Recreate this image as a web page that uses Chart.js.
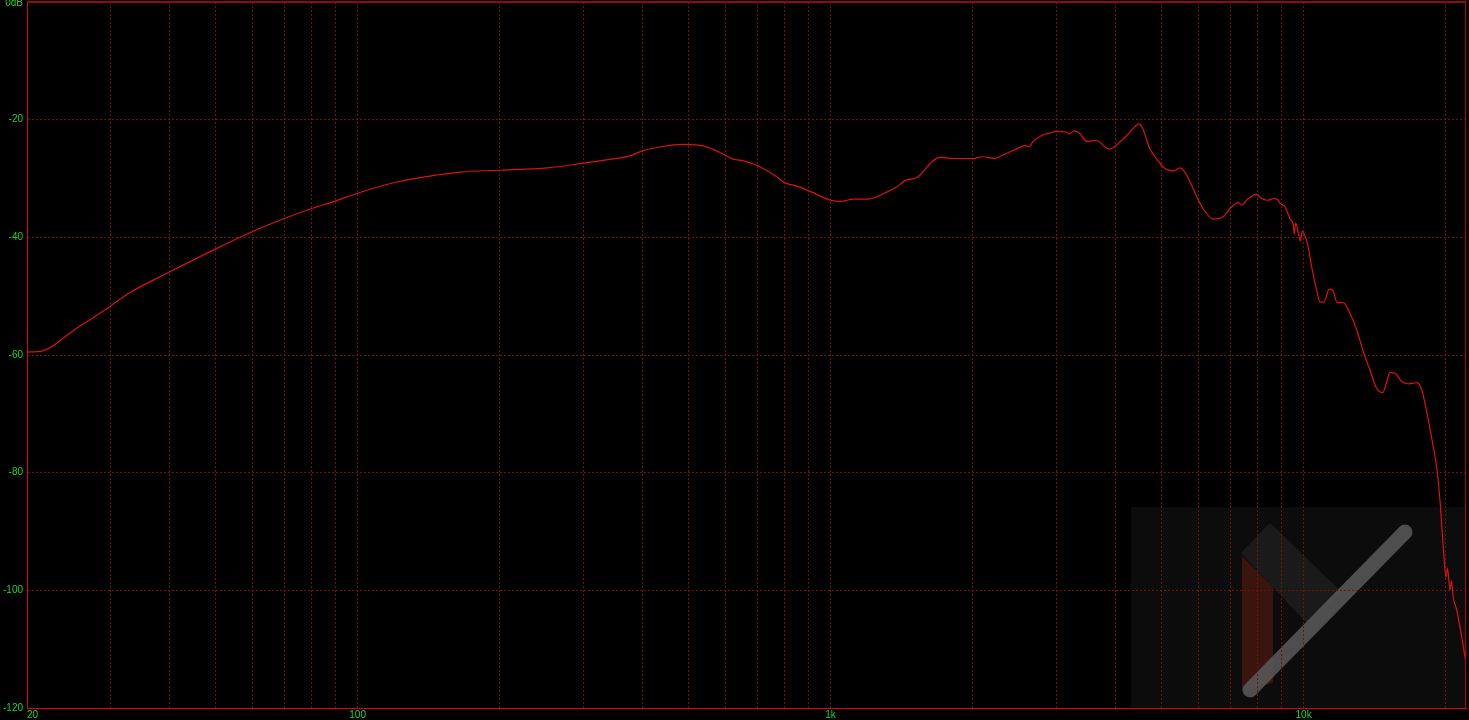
<!DOCTYPE html>
<html>
<head>
<meta charset="utf-8">
<script src="https://cdn.jsdelivr.net/npm/chart.js@4/dist/chart.umd.min.js"></script>
<style>
  html, body { margin: 0; padding: 0; background: #000; }
  canvas { display: block; }
</style>
</head>
<body>
<canvas id="grafico" width="1469" height="720"></canvas>
<script>
// frequências (Hz) e nível (dB)
const freqs = [
  20, 21.6, 25, 30, 32.5, 40, 50, 60, 70, 80, 90, 100, 121, 147, 165, 200, 252, 300, 344, 375, 400,
  438, 488, 540, 598, 622, 654, 700, 766, 800, 848, 900, 1000, 1048, 1120, 1202, 1308, 1376, 1435,
  1532, 1640, 1700, 1820, 2000, 2100, 2230, 2300, 2440, 2580, 2630, 2680, 2810, 2900, 3000, 3150,
  3200, 3270, 3360, 3480, 3640, 3880, 4200, 4440, 4480, 4570, 4730, 4970, 5050, 5300, 5480, 5610,
  5750, 5940, 6140, 6440, 6760, 6990, 7280, 7400, 7640, 7960, 8150, 8420, 8630, 8800, 8910, 9130,
  9360, 9510, 9560, 9620, 9750, 9850, 9930, 10230, 10400, 10660, 10830, 11040, 11330, 11520, 11780,
  12130, 12530, 12950, 13370, 13820, 14280, 14700, 14990, 15230, 15610, 16120, 16650, 17060, 17350,
  17770, 18350, 18800, 19110, 19420, 19740, 20000, 20150, 20390, 20550, 20700, 21070, 21590, 22050
];
const levels = [
  -59.5, -59.3, -55.9, -51.7, -49.7, -45.9, -42.0, -39.0, -36.8, -35.1, -33.8, -32.5, -30.6, -29.4, -28.9, -28.6, -28.2, -27.4, -26.7, -26.2, -25.3,
  -24.6, -24.2, -24.5, -26.0, -26.7, -27.0, -27.8, -29.6, -30.7, -31.3, -32.1, -33.7, -33.9, -33.5, -33.5, -32.4, -31.5, -30.4,
  -29.7, -27.1, -26.4, -26.6, -26.6, -26.3, -26.6, -26.1, -25.2, -24.4, -24.6, -23.7, -22.6, -22.3, -22.0, -22.1,
  -22.4, -21.9, -22.3, -23.7, -23.5, -25.0, -22.9, -20.9, -20.7, -21.5, -24.9, -27.4, -28.1, -28.7, -28.2, -28.9,
  -30.5, -33.0, -35.2, -36.9, -36.5, -35.1, -34.1, -34.5, -33.4, -32.7, -33.4, -33.7, -33.4, -33.5, -34.2, -34.8,
  -36.8, -37.9, -39.4, -37.6, -39.3, -40.6, -39.0, -41.7, -45.0, -49.0, -51.0, -51.0, -48.8, -49.0, -51.1,
  -51.1, -52.9, -55.7, -59.4, -62.6, -65.7, -66.4, -64.5, -63.0, -63.1, -64.5, -64.9, -64.8, -64.7,
  -65.9, -71.0, -75.6, -79.0, -84.6, -92.6, -97.7, -96.2, -99.9, -98.4, -101.0, -103.3, -107.9, -112.4
];

// grade do eixo x e rótulos
const xGrid = [20, 30, 40, 50, 60, 70, 80, 90, 100, 200, 300, 400, 500, 600, 700, 800, 900,
  1000, 2000, 3000, 4000, 5000, 6000, 7000, 8000, 9000, 10000, 20000];
const xLabels = { 20: "20", 100: "100", 1000: "1k", 10000: "10k" };
const yMin = -120, yMax = 0, yStep = 20;

const fonteEixo = { family: "'Liberation Sans Narrow', 'Liberation Sans', sans-serif", size: 10 };
const verde = "#1fd41f";
const grade = "#701212";

// fundo, marca d'água e moldura
const marcaDagua = {
    id: "marcaDagua",
    beforeDraw(chart) {
        const { ctx, chartArea: a } = chart;
        ctx.save();
        ctx.fillStyle = "#000";
        ctx.fillRect(0, 0, chart.width, chart.height);
        const x0 = a.right - 335, y0 = a.bottom - 201;
        ctx.fillStyle = "#0c0c0c";
        ctx.fillRect(x0, y0, a.right - x0, a.bottom - y0);

        ctx.fillStyle = "#1a1a1a";
        ctx.strokeStyle = "#1a1a1a";
        ctx.lineJoin = "round";
        ctx.lineWidth = 6;
        ctx.beginPath();
        ctx.moveTo(x0 + 114, y0 + 46);
        ctx.lineTo(x0 + 139, y0 + 20);
        ctx.lineTo(x0 + 206, y0 + 85);
        ctx.lineTo(x0 + 176, y0 + 112);
        ctx.closePath();
        ctx.fill();
        ctx.stroke();

        ctx.fillStyle = "#3a150f";
        ctx.beginPath();
        ctx.moveTo(x0 + 111, y0 + 49);
        ctx.lineTo(x0 + 142, y0 + 80);
        ctx.lineTo(x0 + 142, y0 + 176);
        ctx.lineTo(x0 + 111, y0 + 183);
        ctx.closePath();
        ctx.fill();

        ctx.strokeStyle = "rgba(90,90,90,0.85)";
        ctx.lineWidth = 15;
        ctx.lineCap = "round";
        ctx.beginPath();
        ctx.moveTo(x0 + 119, y0 + 183);
        ctx.lineTo(x0 + 274, y0 + 25);
        ctx.stroke();
        ctx.restore();
    },
    afterDraw(chart) {
        const { ctx, chartArea: a } = chart;
        ctx.save();
        ctx.strokeStyle = "#8c0c0c";
        ctx.lineWidth = 2;
        ctx.beginPath();
        ctx.moveTo(a.left, a.top);
        ctx.lineTo(a.right, a.top);
        ctx.stroke();
        ctx.lineWidth = 1;
        ctx.strokeStyle = "#b00000";
        ctx.beginPath();
        ctx.moveTo(a.right - 0.5, a.top);
        ctx.lineTo(a.right - 0.5, a.bottom);
        ctx.stroke();
        ctx.restore();
    }
};

new Chart(document.getElementById("grafico"), {
    type: "line",
    data: {
        datasets: [{
            data: freqs.map((f, i) => ({ x: f, y: levels[i] })),
            borderColor: "#dd1111",
            borderWidth: 1.2,
            pointRadius: 0,
            cubicInterpolationMode: "monotone",
            fill: false
        }]
    },
    options: {
        responsive: false,
        animation: false,
        layout: { padding: { top: 2, right: 3, left: 0, bottom: 0 } },
        plugins: { legend: { display: false }, tooltip: { enabled: false } },
        scales: {
            x: {
                type: "logarithmic",
                min: 20,
                max: 22050,
                afterBuildTicks: s => { s.ticks = xGrid.map(v => ({ value: v })); },
                afterFit: s => { s.height = 12; s.paddingLeft = 0; s.paddingRight = 0; },
                grid: { color: grade, lineWidth: 1, drawTicks: false },
                border: { color: "#e00000", width: 1, dash: [2, 2] },
                ticks: {
                    color: verde, font: fonteEixo, padding: 1,
                    autoSkip: false, maxRotation: 0, align: "inner",
                    callback: v => xLabels[v] || ""
                }
            },
            y: {
                min: yMin,
                max: yMax,
                afterFit: s => { s.width = 27; s.paddingTop = 0; s.paddingBottom = 0; },
                grid: { color: grade, lineWidth: 1, drawTicks: false },
                border: { color: "#e00000", width: 1, dash: [2, 2] },
                ticks: {
                    stepSize: yStep, color: verde, padding: 4,
                    // o rótulo do topo desce um pouco para caber na tela
                    font: c => (c.tick && c.tick.value === 0) ? { ...fonteEixo, lineHeight: 0.3 } : fonteEixo,
                    callback: v => v === 0 ? ["", "0dB"] : String(v)
                }
            }
        }
    },
    plugins: [marcaDagua]
});
</script>
</body>
</html>
